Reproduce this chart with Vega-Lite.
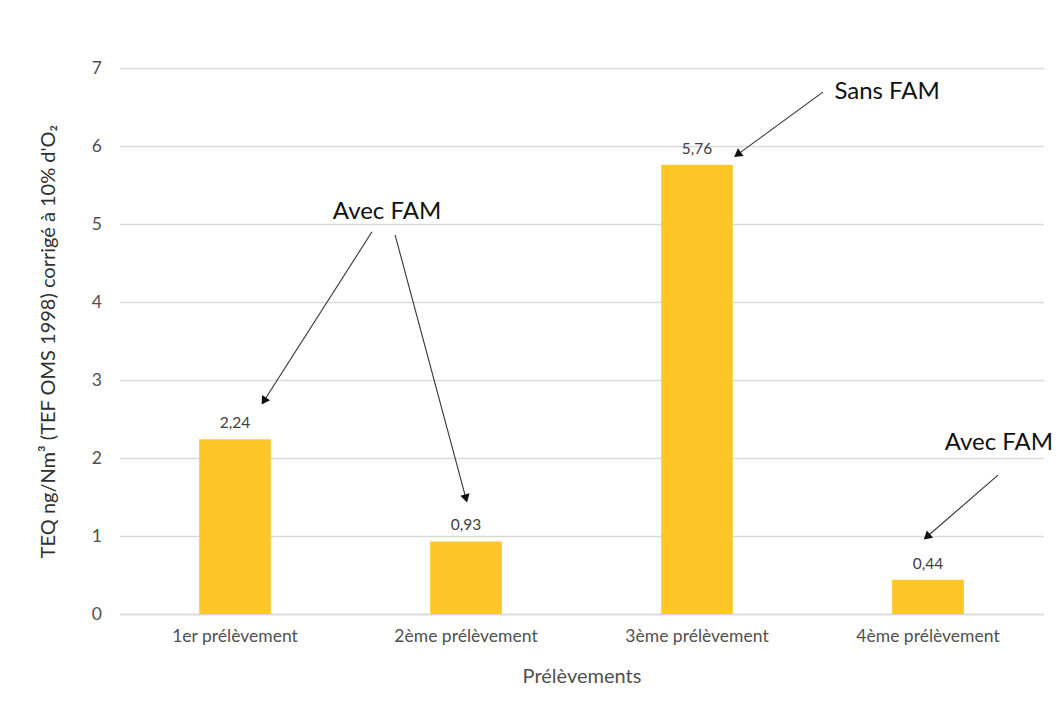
{
  "$schema": "https://vega.github.io/schema/vega-lite/v6.json",
  "width": 924,
  "height": 546,
  "autosize": {"type": "none"},
  "padding": {"left": 119.5, "top": 68, "right": 19.5, "bottom": 93},
  "background": "white",
  "config": {
    "view": {"stroke": null},
    "font": "Lato",
    "locale": {"number": {"decimal": ",", "thousands": " ", "grouping": [3], "currency": ["", " €"]}}
  },
  "datasets": {
    "bars": [
      {"prelevement": "1er prélèvement", "teq": 2.24},
      {"prelevement": "2ème prélèvement", "teq": 0.93},
      {"prelevement": "3ème prélèvement", "teq": 5.76},
      {"prelevement": "4ème prélèvement", "teq": 0.44}
    ],
    "arrows": [
      {"x1": 1.093, "y1": 4.90, "x2": 0.625, "y2": 2.73},
      {"x1": 1.193, "y1": 4.86, "x2": 1.500, "y2": 1.48},
      {"x1": 3.045, "y1": 6.69, "x2": 2.675, "y2": 5.89},
      {"x1": 3.803, "y1": 1.78, "x2": 3.495, "y2": 0.99}
    ],
    "notes": [
      {"text": "Avec FAM", "x": 1.158, "y": 5.15},
      {"text": "Sans FAM", "x": 3.323, "y": 6.69},
      {"text": "Avec FAM", "x": 3.807, "y": 2.19}
    ]
  },
  "layer": [
    {
      "data": {"name": "bars"},
      "encoding": {
        "x": {
          "field": "prelevement", "type": "nominal", "sort": null,
          "scale": {"paddingInner": 0.69, "paddingOuter": 0.345},
          "axis": {
            "title": "Prélèvements", "labelAngle": 0, "ticks": false,
            "domainColor": "#d9d9d9", "domainWidth": 1.5,
            "labelFontSize": 17.5, "labelColor": "#505050", "labelPadding": 13,
            "titleFontSize": 20, "titleColor": "#505050", "titleFontWeight": "normal", "titlePadding": 22
          }
        },
        "y": {
          "field": "teq", "type": "quantitative",
          "scale": {"domain": [0, 7], "nice": false},
          "axis": {
            "title": "TEQ ng/Nm³ (TEF OMS 1998) corrigé à 10% d'O₂",
            "values": [0, 1, 2, 3, 4, 5, 6, 7], "format": "d",
            "ticks": false, "domain": false, "grid": true, "gridColor": "#d9d9d9", "gridWidth": 1.5,
            "labelFontSize": 17.5, "labelColor": "#505050", "labelPadding": 18,
            "titleFontSize": 20, "titleColor": "#303030", "titleFontWeight": "normal", "titlePadding": 33
          }
        }
      },
      "layer": [
        {"mark": {"type": "bar", "color": "#FFC627"}},
        {
          "mark": {"type": "text", "baseline": "alphabetic", "dy": -11, "fontSize": 15.5, "color": "#404040"},
          "encoding": {"text": {"field": "teq", "type": "quantitative", "format": ".2f"}}
        }
      ]
    },
    {
      "layer": [
        {
          "data": {"name": "arrows"},
          "mark": {"type": "rule", "color": "#333333", "strokeWidth": 1.1},
          "encoding": {
            "x": {"field": "x1", "type": "quantitative", "scale": {"domain": [0, 4], "nice": false}, "axis": null},
            "x2": {"field": "x2"},
            "y": {"field": "y1", "type": "quantitative", "scale": {"domain": [0, 7], "nice": false}, "axis": null},
            "y2": {"field": "y2"}
          }
        },
        {
          "data": {"name": "arrows"},
          "transform": [{"calculate": "atan2((datum.x2 - datum.x1) * 231, (datum.y2 - datum.y1) * 78) * 180 / PI", "as": "ang"}],
          "mark": {"type": "point", "shape": "triangle-up", "filled": true, "color": "#111111", "opacity": 1, "size": 90},
          "encoding": {
            "x": {"field": "x2", "type": "quantitative", "scale": {"domain": [0, 4], "nice": false}, "axis": null},
            "y": {"field": "y2", "type": "quantitative", "scale": {"domain": [0, 7], "nice": false}, "axis": null},
            "angle": {"field": "ang", "type": "quantitative", "scale": null}
          }
        },
        {
          "data": {"name": "notes"},
          "mark": {"type": "text", "fontSize": 24, "color": "#111111", "baseline": "middle", "align": "center"},
          "encoding": {
            "x": {"field": "x", "type": "quantitative", "scale": {"domain": [0, 4], "nice": false}, "axis": null},
            "y": {"field": "y", "type": "quantitative", "scale": {"domain": [0, 7], "nice": false}, "axis": null},
            "text": {"field": "text"}
          }
        }
      ]
    }
  ],
  "resolve": {"scale": {"x": "independent", "y": "independent"}}
}
